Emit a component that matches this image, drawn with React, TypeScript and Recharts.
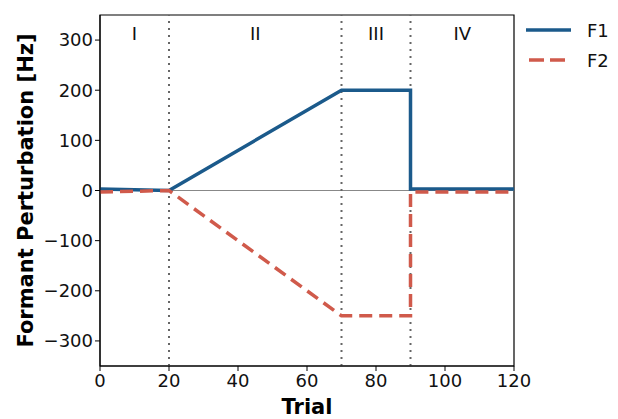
import React from 'react';
import { LineChart, Line, XAxis, YAxis, ReferenceLine, ReferenceDot, ReferenceArea, Legend } from 'recharts';

const trials = [0, 20, 70, 90, 90, 120];
const f1 = [3, 0, 200, 200, 3, 3];
const f2 = [-3, 0, -250, -250, -3, -3];

const phaseBounds = [20, 70, 90];
const phaseLabels = ['I', 'II', 'III', 'IV'];
const phaseCenters = [10, 45, 80, 105];

const xTicks = [0, 20, 40, 60, 80, 100, 120];
const yTicks = [-300, -200, -100, 0, 100, 200, 300];

const BLUE = '#1b5a8b';
const RED = '#d05a4b';
const FONT = 'DejaVu Sans, sans-serif';

const data = trials.map((t, i) => ({ trial: t, F1: f1[i], F2: f2[i] }));

const LegendBox = () => (
  <div style={{ width: 104, height: 80 }}>
    <svg width={104} height={80} style={{ fontFamily: FONT }}>
      <line x1={12} y1={15} x2={57} y2={15} stroke={BLUE} strokeWidth={3.5} />
      <text x={73} y={22} fontSize={18} fill="#111">F1</text>
      <line x1={15} y1={45} x2={57} y2={45} stroke={RED} strokeWidth={3.5} strokeDasharray="15 6" />
      <text x={73} y={52} fontSize={18} fill="#111">F2</text>
    </svg>
  </div>
);

const minus = (v: number) => String(v).replace('-', '\u2212');

const App = () => (
  <div style={{ position: 'absolute', left: 0, top: 0, fontFamily: FONT }}>
    <LineChart width={618} height={419} data={data} margin={{ top: 15, right: 0, bottom: 0, left: 40 }}>
      <ReferenceArea x1={0} x2={120} y1={-350} y2={350} fill="none" stroke="#000" strokeWidth={1.2} />
      <XAxis
        dataKey="trial"
        type="number"
        domain={[0, 120]}
        ticks={xTicks}
        height={53}
        tickSize={5}
        tickMargin={3}
        stroke="#000"
        tick={{ fill: '#111', fontSize: 18, fontFamily: FONT }}
        label={{ value: 'Trial', position: 'insideBottom', offset: 5, fill: '#000', fontSize: 21, fontWeight: 'bold', fontFamily: FONT }}
      />
      <YAxis
        type="number"
        domain={[-350, 350]}
        ticks={yTicks}
        width={60}
        tickSize={5}
        stroke="#000"
        tickFormatter={minus}
        tick={{ fill: '#111', fontSize: 18, fontFamily: FONT }}
        label={{ value: 'Formant Perturbation [Hz]', angle: -90, position: 'insideLeft', offset: -14, fill: '#000', fontSize: 21, fontWeight: 'bold', fontFamily: FONT, style: { textAnchor: 'middle' } }}
      />
      <ReferenceLine y={0} stroke="#888" strokeWidth={1} />
      {phaseBounds.map((b) => (
        <ReferenceLine key={b} x={b} stroke="#666" strokeWidth={2} strokeDasharray="2 5" />
      ))}
      {phaseLabels.map((l, i) => (
        <ReferenceDot key={l} x={phaseCenters[i]} y={313} r={0} stroke="none" fill="none"
          label={{ value: l, position: 'center', fill: '#111', fontSize: 18, fontFamily: FONT }} />
      ))}
      <Line dataKey="F1" stroke={BLUE} strokeWidth={3.5} dot={false} isAnimationActive={false} />
      <Line dataKey="F2" stroke={RED} strokeWidth={3.5} strokeDasharray="13 7" dot={false} isAnimationActive={false} />
      <Legend layout="vertical" align="right" verticalAlign="top" content={<LegendBox />}
        wrapperStyle={{ position: 'absolute', top: 15, right: 0, left: 'auto', width: 104 }} />
    </LineChart>
  </div>
);

export default App;
